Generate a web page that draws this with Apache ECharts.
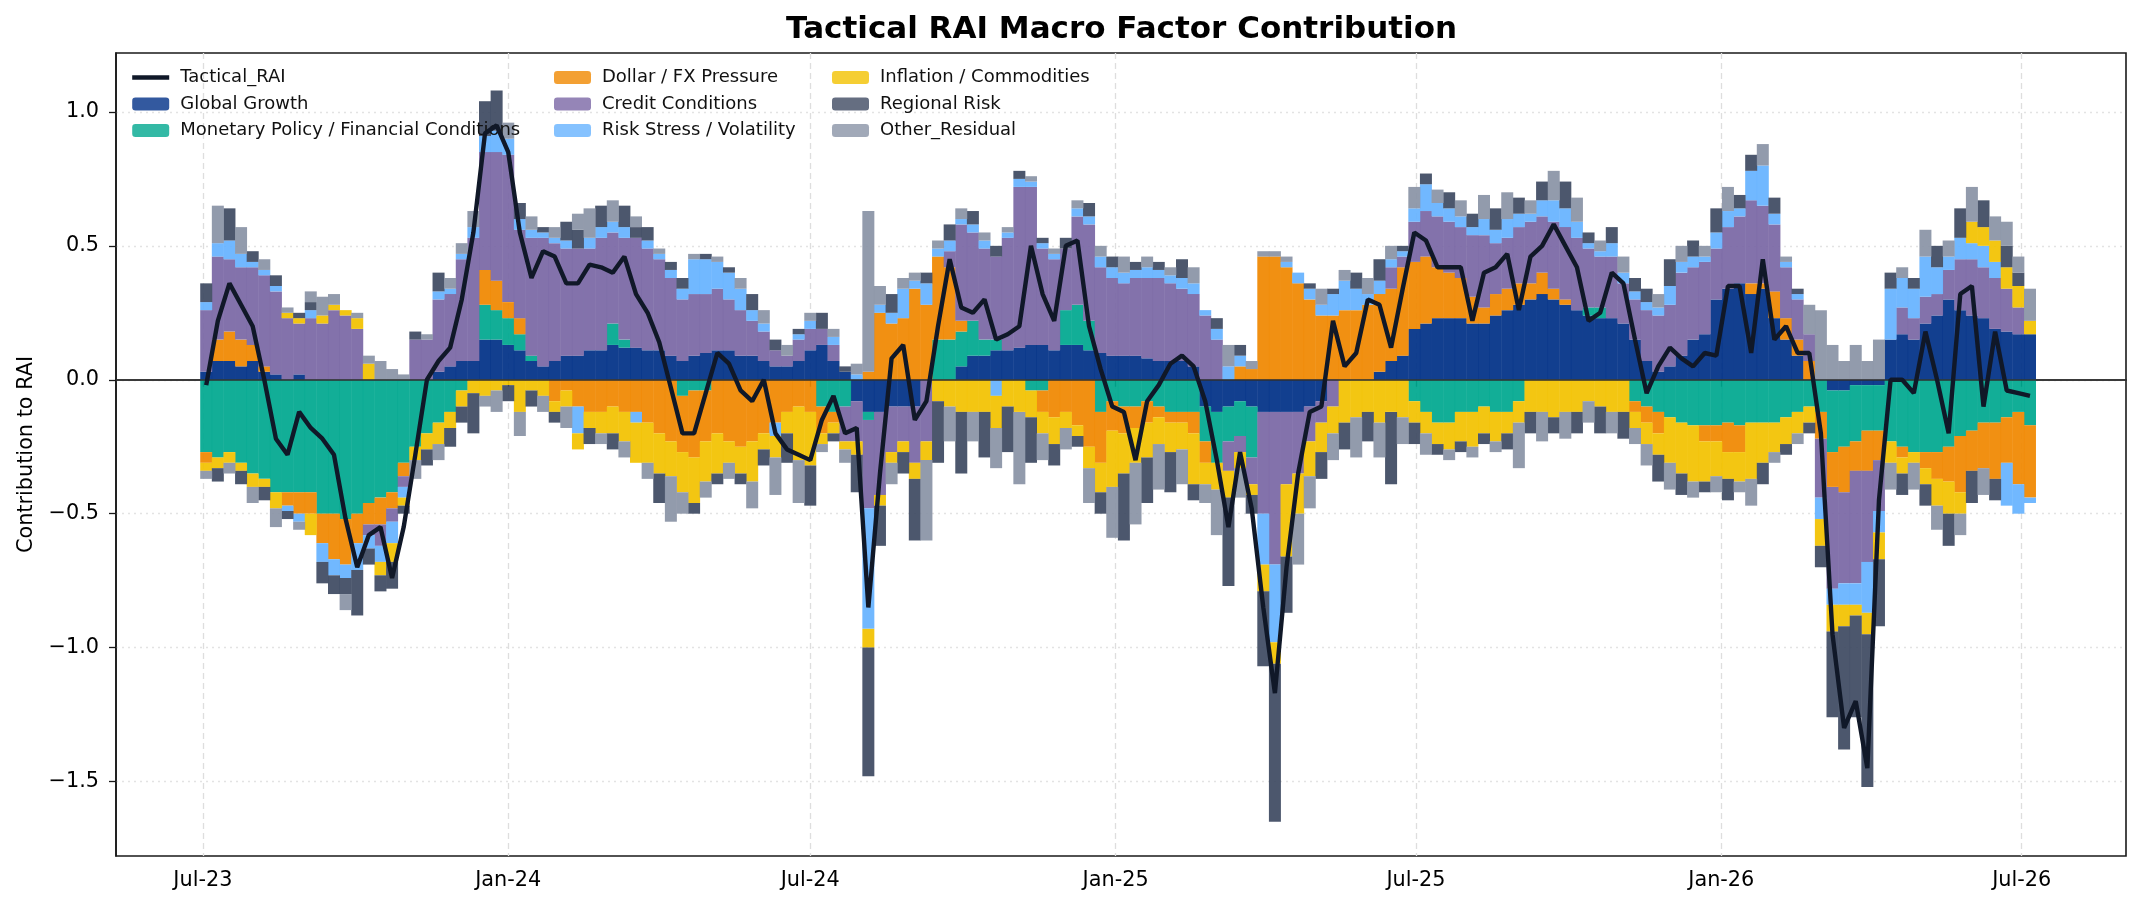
<!DOCTYPE html>
<html>
<head>
<meta charset="utf-8">
<script src="https://cdn.jsdelivr.net/npm/echarts@6/dist/echarts.min.js"></script>
<style>
  html, body { margin: 0; padding: 0; background: #fff; }
  #chart { width: 2142px; height: 911px; }
</style>
</head>
<body>
<div id="chart"></div>
<script>
// weekly observations, first week starting 2023-07-03
const firstWeek = '2023-07-03';

const globalGrowth = [
  .03,.07,.07,.05,.07,.03,.02,0,.02,0,
  0,0,0,0,0,0,0,0,0,0,
  .03,.05,.07,.07,.15,.15,.13,.11,.07,.05,
  .07,.09,.09,.11,.11,.13,.12,.12,.11,.11,
  .09,.07,.09,.1,.11,.11,.09,.09,.07,.05,
  .05,.07,.11,.13,.07,.03,-.08,-.12,-.12,-.1,
  -.1,-.1,0,0,0,.05,.09,.09,.11,.11,
  .12,.13,.13,.11,.13,.13,.11,.1,.09,.09,
  .09,.08,.07,.07,.07,.05,-.1,-.12,-.1,-.08,
  -.1,-.12,-.12,-.12,-.12,-.1,-.08,0,0,0,
  0,.03,.07,.09,.19,.21,.23,.23,.23,.21,
  .21,.24,.26,.28,.3,.32,.3,.28,.26,.24,
  .23,.23,.21,.15,.07,.03,.05,.09,.15,.17,
  .3,.34,.36,.32,.34,.23,.15,.09,0,0,
  -.04,-.04,-.02,-.02,-.02,.15,.17,.15,.21,.24,
  .3,.26,.24,.23,.19,.18,.17,.17
];
const monetaryPolicy = [
  -.27,-.29,-.27,-.31,-.35,-.37,-.42,-.42,-.42,-.42,
  -.5,-.5,-.52,-.5,-.46,-.44,-.42,-.31,-.25,-.2,
  -.16,-.12,-.04,0,.13,.11,.1,.06,.02,0,
  0,0,0,0,0,.08,.03,0,0,0,
  0,-.06,-.04,-.04,0,0,0,0,0,0,
  0,0,0,-.1,-.12,-.1,0,-.03,0,0,
  0,0,0,.15,.15,.13,.13,.06,.04,0,
  0,-.04,-.04,0,.13,.15,.11,-.12,-.08,-.1,
  -.1,-.08,-.1,-.12,-.12,-.12,-.13,-.19,-.13,-.13,
  -.19,0,0,0,0,0,0,0,0,0,
  0,0,0,0,-.08,-.12,-.16,-.16,-.12,-.12,
  -.1,-.12,-.12,-.08,0,0,0,0,0,.03,
  .04,0,0,-.08,-.1,-.12,-.14,-.16,-.17,-.17,
  -.17,-.16,-.17,-.16,-.16,-.16,-.14,-.12,-.1,-.12,
  -.23,-.21,-.21,-.17,-.17,-.23,-.25,-.27,-.27,-.27,
  -.25,-.21,-.19,-.16,-.16,-.14,-.12,-.17
];
const dollarFx = [
  -.04,.08,.11,.1,.06,.02,0,-.05,-.08,-.08,
  -.11,-.17,-.17,-.11,-.08,-.1,-.06,-.05,0,0,
  0,0,0,0,.13,.11,.06,.06,0,0,
  -.08,-.04,-.1,-.12,-.12,-.1,-.12,-.12,-.16,-.2,
  -.23,-.21,-.25,-.19,-.2,-.23,-.25,-.23,-.2,-.16,
  -.12,-.1,-.12,-.1,-.04,0,0,.03,.25,.21,
  .23,.34,.28,.31,.27,.04,0,0,0,0,
  0,0,-.08,-.14,-.12,-.17,-.25,-.19,-.11,-.1,
  -.08,-.08,-.04,-.04,-.04,-.08,-.08,0,0,.05,
  .04,.46,.46,.42,.36,.3,.24,.24,.26,.26,
  .28,.29,.27,.33,.25,.25,.19,.17,.15,.1,
  .06,.08,.08,.08,.06,.08,.04,.02,0,0,
  0,0,0,-.04,-.06,-.08,0,0,0,-.06,
  -.06,-.11,-.1,.04,.02,.1,.08,.06,.07,-.1,
  -.13,-.17,-.11,-.15,-.11,0,-.04,0,-.06,-.1,
  -.13,-.21,-.15,-.17,-.21,-.17,-.27,-.27
];
const creditConditions = [
  .23,.31,.27,.27,.29,.34,.31,.23,.19,.23,
  .21,.26,.24,.19,-.04,-.08,-.05,-.04,.15,.15,
  .27,.27,.38,.46,.44,.48,.55,.33,.44,.48,
  .44,.4,.4,.38,.42,.34,.38,.41,.38,.34,
  .29,.23,.23,.22,.23,.19,.17,.13,.11,.06,
  .04,.08,.08,.06,.06,-.13,-.15,-.33,-.31,-.17,
  -.13,-.21,-.23,0,.06,.36,.33,.34,.31,.42,
  .6,.59,.36,.34,.23,.33,.36,.32,.29,.27,
  .29,.3,.31,.29,.27,.27,.24,.15,-.11,-.06,
  -.1,-.38,-.57,-.27,-.23,-.13,-.08,-.1,0,0,
  0,0,.08,.04,.15,.17,.19,.19,.19,.23,
  .27,.19,.19,.21,.23,.21,.25,.27,.27,.22,
  .19,.23,.15,.15,.19,.21,.23,.31,.27,.27,
  .19,.23,.25,.31,.29,.25,.19,.15,.1,-.22,
  -.38,-.34,-.42,-.34,-.19,0,.1,.08,.1,.08,
  .11,.19,.21,.19,.19,.16,.1,0
];
const riskStress = [
  .03,.05,.07,.05,.02,.02,.02,-.02,-.03,.03,
  -.07,-.06,-.05,-.1,-.05,-.06,-.08,-.04,0,0,
  .03,.02,.02,.04,.06,.08,.06,.04,.03,.02,
  .02,.03,-.1,.04,.04,.04,.04,-.04,.03,.02,
  .03,.04,.13,.13,.1,.1,.08,.04,.03,-.05,
  0,.02,.03,0,.03,0,.02,-.45,.03,.04,
  .11,.03,.08,.03,.04,.02,.03,.03,-.06,.02,
  .03,.02,.02,.02,0,.03,.03,.04,.04,.04,
  .03,.04,.03,.03,.04,.04,.02,.04,.05,.04,
  0,-.19,-.29,.02,.04,.04,.04,.08,.11,.08,
  .04,.05,.03,.02,.05,.1,.05,.05,.04,.03,
  .06,.05,.07,.05,.03,.06,.08,.07,.06,.02,
  .02,.05,.04,.03,.03,.03,.07,.04,.04,.02,
  .06,.06,.03,.11,.15,.04,.02,.02,0,-.08,
  -.06,-.08,-.08,-.19,-.08,.19,.11,.11,.15,.1,
  .05,.08,.06,.08,.06,-.16,-.11,-.02
];
const inflationCommodities = [
  -.03,-.04,-.04,-.03,-.05,-.03,-.06,.02,.02,-.08,
  .03,.02,.02,.04,.06,-.05,-.07,-.03,-.05,-.06,
  -.08,-.06,-.06,-.05,-.06,-.04,-.02,-.12,-.04,-.06,
  -.04,-.06,-.06,-.06,-.08,-.1,-.11,-.15,-.15,-.15,
  -.13,-.15,-.17,-.15,-.15,-.08,-.1,-.15,-.06,-.08,
  -.08,-.2,-.2,-.04,-.04,-.03,-.05,-.07,-.04,-.04,
  -.04,-.06,-.07,-.08,-.1,-.12,-.12,-.12,-.12,-.1,
  -.12,-.1,-.08,-.1,-.06,-.04,-.08,-.11,-.21,-.15,
  -.13,-.13,-.1,-.11,-.1,-.19,-.08,-.1,-.1,-.06,
  -.04,-.1,-.08,-.27,-.15,-.13,-.11,-.1,-.16,-.14,
  -.12,-.16,-.12,-.14,-.08,-.08,-.08,-.1,-.11,-.13,
  -.1,-.11,-.08,-.08,-.12,-.12,-.14,-.12,-.12,-.08,
  -.1,-.12,-.12,-.06,-.08,-.08,-.17,-.19,-.21,-.15,
  -.13,-.1,-.11,-.21,-.15,-.11,-.1,-.08,-.06,-.1,
  -.1,-.08,-.04,-.08,-.1,-.08,-.06,-.04,-.06,-.1,
  -.12,-.08,.08,.07,.08,.08,.08,.05
];
const regionalRisk = [
  .07,-.05,.12,-.05,.04,-.05,.04,-.03,.02,.03,
  -.08,-.07,-.06,-.17,-.06,-.06,-.1,-.03,.03,-.06,
  .07,-.07,-.06,-.15,.13,.15,-.06,.06,-.06,.02,
  -.04,.07,.07,-.06,.08,-.06,.08,.04,.05,-.11,
  .03,.04,-.04,.02,-.04,.02,-.04,.06,-.06,.04,
  -.11,.02,-.15,.06,-.03,.02,-.14,-.48,-.15,.07,
  -.08,-.23,.04,-.23,.06,-.23,.05,-.17,.04,-.17,
  .03,-.17,.02,-.08,.04,-.04,.05,-.08,.04,-.25,
  .03,-.17,.03,-.15,.07,-.06,0,.04,-.33,.04,
  -.07,-.28,-.59,-.21,0,.02,-.1,.02,-.1,.06,
  -.11,.08,-.27,.02,-.08,.04,-.04,.06,-.04,.05,
  -.04,.08,-.06,.06,-.08,.07,-.06,.1,-.08,.04,
  -.1,.06,-.1,.05,.05,-.1,.1,-.08,.06,-.04,
  .09,-.08,.05,.06,-.08,.06,-.04,.02,-.04,-.08,
  -.32,-.46,-.38,-.57,-.25,.06,-.08,.04,-.08,.08,
  -.12,.11,-.12,.1,-.08,.08,.05,0
];
const otherResidual = [
  -.03,.14,-.04,.1,-.06,.04,-.07,.02,-.03,.04,
  .07,.04,-.06,.02,.03,.07,.04,.02,-.07,.02,
  -.06,.04,.04,.06,-.04,-.08,.06,-.09,.05,-.06,
  .04,-.08,.06,.11,-.04,.08,-.06,.04,-.06,.02,
  -.17,-.08,.02,-.06,.02,-.06,.04,-.1,.05,-.14,
  .04,-.16,.03,-.03,.03,-.05,.04,.6,.07,-.08,
  .04,.03,-.3,.03,-.13,.04,-.11,.03,-.15,.02,
  -.27,.02,-.1,.02,-.08,.03,-.13,.04,-.19,.06,
  -.23,.04,-.17,.03,-.13,.06,-.07,-.17,.08,-.11,
  .03,.02,.02,.02,-.19,-.12,.06,-.1,.04,-.15,
  .06,-.13,.05,-.1,.08,-.08,.05,-.04,.06,-.04,
  .09,-.04,.1,-.17,.05,-.11,.11,-.1,.09,-.08,
  .04,-.08,.06,-.06,-.08,.05,-.1,.06,-.06,.04,
  -.06,.09,-.04,-.1,.08,-.04,.02,-.04,.11,.26,
  .13,.07,.13,.07,.15,-.1,.04,-.1,.1,-.09,
  .06,-.08,.13,-.1,.09,.09,.06,.12
];
const tacticalRai = [
  -.02,.22,.36,.28,.2,0,-.22,-.28,-.12,-.18,
  -.22,-.28,-.52,-.7,-.58,-.55,-.74,-.55,-.28,0,
  .07,.12,.3,.55,.92,.95,.85,.55,.38,.48,
  .46,.36,.36,.43,.42,.4,.46,.32,.25,.14,
  -.03,-.2,-.2,-.05,.1,.06,-.04,-.08,0,-.2,
  -.26,-.28,-.3,-.15,-.06,-.2,-.18,-.85,-.35,.08,
  .13,-.15,-.08,.2,.45,.27,.25,.3,.15,.17,
  .2,.5,.32,.22,.5,.52,.2,.04,-.1,-.12,
  -.3,-.08,-.02,.06,.09,.05,-.08,-.3,-.55,-.27,
  -.48,-.85,-1.17,-.7,-.35,-.12,-.1,.22,.05,.1,
  .3,.28,.12,.34,.55,.52,.42,.42,.42,.22,
  .4,.42,.47,.26,.46,.5,.58,.5,.42,.22,
  .25,.4,.36,.15,-.05,.05,.12,.08,.05,.1,
  .09,.35,.35,.1,.45,.15,.2,.1,.1,-.2,
  -.95,-1.3,-1.2,-1.45,-.45,0,0,-.05,.18,0,
  -.2,.32,.35,-.1,.18,-.04,-.05,-.06
];

const tickDates = ['2023-07-01', '2024-01-01', '2024-07-01', '2025-01-01', '2025-07-01', '2026-01-01', '2026-07-01'];
const tickLabels = ['Jul-23', 'Jan-24', 'Jul-24', 'Jan-25', 'Jul-25', 'Jan-26', 'Jul-26'];
const yTicks = [-1.5, -1, -0.5, 0, 0.5, 1];

const factors = [
  { name: 'Global Growth', color: '#003087', values: globalGrowth },
  { name: 'Monetary Policy / Financial Conditions', color: '#00A88F', values: monetaryPolicy },
  { name: 'Dollar / FX Pressure', color: '#F08800', values: dollarFx },
  { name: 'Credit Conditions', color: '#7A67A5', values: creditConditions },
  { name: 'Risk Stress / Volatility', color: '#66B3FF', values: riskStress },
  { name: 'Inflation / Commodities', color: '#F2C200', values: inflationCommodities },
  { name: 'Regional Risk', color: '#3E4A62', values: regionalRisk },
  { name: 'Other_Residual', color: '#8A93A6', values: otherResidual }
];

const DAY = 86400000;
const toTime = s => new Date(s + 'T00:00:00Z').getTime();
const t0 = toTime(firstWeek);
const weeks = globalGrowth.map((_, i) => t0 + i * 7 * DAY);
const tickTimes = tickDates.map(toTime);
const font = 'DejaVu Sans';

const labelFor = v => {
  const k = tickTimes.findIndex(t => Math.abs(t - v) < 2 * DAY);
  return k >= 0 ? tickLabels[k] : '';
};

const chart = echarts.init(document.getElementById('chart'));

const series = factors.map(f => ({
  name: f.name,
  type: 'bar',
  stack: 'factors',
  stackStrategy: 'samesign',
  barWidth: 12,
  itemStyle: { color: f.color, opacity: 0.93 },
  emphasis: { disabled: true },
  data: weeks.map((t, i) => [t, f.values[i]])
}));

series.push({
  name: 'Tactical_RAI',
  type: 'line',
  z: 5,
  symbol: 'none',
  lineStyle: { color: '#101828', width: 4.4 },
  itemStyle: { color: '#101828' },
  data: weeks.map((t, i) => [t, tacticalRai[i]]),
  markLine: {
    silent: true,
    symbol: ['none', 'none'],
    label: { show: false },
    lineStyle: { color: '#333', width: 1.5, type: 'solid' },
    data: [{ yAxis: 0 }]
  }
});

const legendBase = {
  orient: 'vertical',
  top: 68.5,
  padding: 0,
  itemWidth: 37,
  itemHeight: 13,
  itemGap: 8.5,
  textStyle: { fontFamily: font, fontSize: 18, color: '#111', padding: [0, 0, 0, 6] }
};
const swatch = name => ({ name, itemStyle: { opacity: 0.8 } });

const option = {
  animation: false,
  useUTC: true,
  backgroundColor: '#fff',
  title: {
    text: 'Tactical RAI Macro Factor Contribution',
    left: 781,
    top: 9,
    padding: 5,
    textStyle: { fontFamily: font, fontSize: 31, fontWeight: 'bold', color: '#000' }
  },
  legend: [
    Object.assign({}, legendBase, {
      left: 130,
      data: [
        { name: 'Tactical_RAI', itemStyle: { opacity: 0 }, lineStyle: { width: 4.4, color: '#101828' } },
        swatch('Global Growth'),
        swatch('Monetary Policy / Financial Conditions')
      ]
    }),
    Object.assign({}, legendBase, { left: 554, data: [swatch('Dollar / FX Pressure'), swatch('Credit Conditions'), swatch('Risk Stress / Volatility')] }),
    Object.assign({}, legendBase, { left: 832, data: [swatch('Inflation / Commodities'), swatch('Regional Risk'), swatch('Other_Residual')] })
  ],
  grid: {
    left: 116, right: 16, top: 53, bottom: 55,
    show: true, borderColor: '#1a1a1a', borderWidth: 1.6, backgroundColor: 'transparent'
  },
  xAxis: {
    type: 'time',
    // bar overflow padding widens this range by about 3.6 days on each side
    min: Date.UTC(2023, 4, 13, 6, 0),
    max: Date.UTC(2026, 7, 29, 6, 0),
    minInterval: 180 * DAY,
    maxInterval: 184 * DAY,
    axisLine: { show: true, lineStyle: { color: '#1a1a1a', width: 1.6 } },
    axisTick: { show: true, length: 7, lineStyle: { color: '#1a1a1a', width: 1.3 } },
    axisLabel: {
      showMinLabel: false,
      showMaxLabel: false,
      hideOverlap: false,
      margin: 14,
      fontFamily: font, fontSize: 20.8, color: '#000', fontWeight: 'normal',
      formatter: v => labelFor(v)
    },
    splitLine: {
      show: true, showMinLine: false, showMaxLine: false,
      lineStyle: { color: '#dedede', width: 1.3, type: [6, 4] }
    }
  },
  yAxis: {
    type: 'value',
    min: -1.778,
    max: 1.22,
    name: 'Contribution to RAI',
    nameLocation: 'middle',
    nameGap: 79,
    nameTextStyle: { fontFamily: font, fontSize: 20.8, color: '#000' },
    axisLine: { show: true, lineStyle: { color: '#1a1a1a', width: 1.6 } },
    axisTick: { show: true, length: 7, customValues: yTicks, lineStyle: { color: '#1a1a1a', width: 1.3 } },
    axisLabel: {
      customValues: yTicks,
      margin: 17,
      fontFamily: font, fontSize: 20.8, color: '#000',
      formatter: v => (v < 0 ? '\u2212' : '') + Math.abs(v).toFixed(1)
    },
    splitLine: { show: true, lineStyle: { color: '#e3e3e3', width: 1.3, type: [2, 4] } }
  },
  series: series
};

chart.setOption(option);
</script>
</body>
</html>
